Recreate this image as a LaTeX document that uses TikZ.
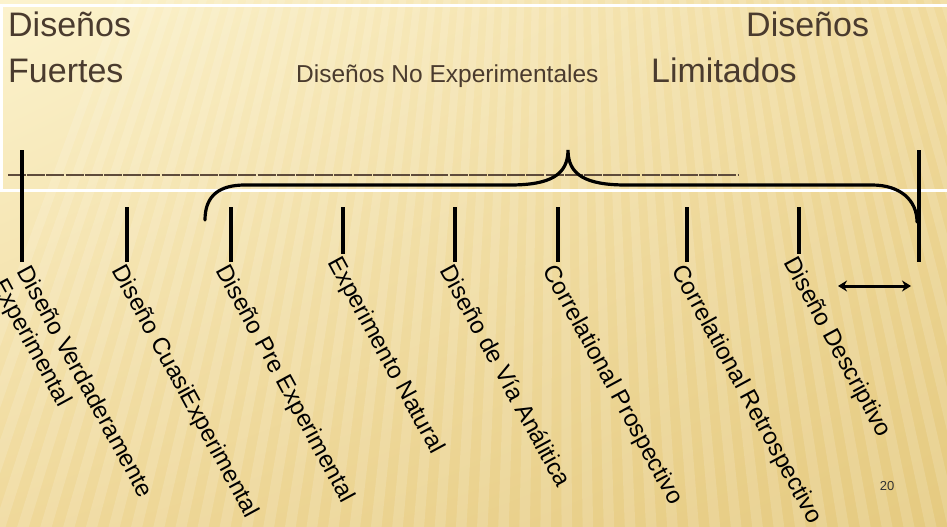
\documentclass[tikz,border=0pt]{standalone}
\usepackage{fontspec}
\setmainfont{Liberation Sans}
\usetikzlibrary{arrows.meta,shadings}
\definecolor{titlebrown}{HTML}{4A3B2E}
\definecolor{rulebrown}{HTML}{5E4B3B}
\definecolor{bgUL}{HTML}{FCF3CE}
\definecolor{bgUR}{HTML}{F0DA9C}
\definecolor{bgLL}{HTML}{EFD899}
\definecolor{bgLR}{HTML}{E5CA80}
\begin{document}
\begin{tikzpicture}[x=1pt,y=-1pt,
  tickline/.style={line width=3.5pt, black},
  lab/.style={anchor=north west, rotate=-61.5, inner sep=0pt, align=left,
    text=black, font=\fontsize{24}{28}\selectfont},
  ttl/.style={anchor=base west, inner sep=0pt, text=titlebrown,
    font=\fontsize{34}{40}\selectfont},
  bracepath/.style={line width=3.2pt, black, line cap=round},
  frameline/.style={white, line width=3pt}]
\useasboundingbox (0,0) rectangle (947,527);
% background
\shade[upper left=bgUL, upper right=bgUR, lower left=bgLL, lower right=bgLR]
  (0,0) rectangle (947,527);
\begin{scope}
  \clip (0,0) rectangle (947,527);
  \begin{scope}[shift={(560,-1200)}]
    \foreach \i in {0,...,57} {
      \pgfmathsetmacro\a{70+\i*0.7}
      \pgfmathsetmacro\b{\a+0.35}
      \fill[white, opacity=0.14] (0,0) -- (\a:2000) -- (\b:2000) -- cycle;
    }
  \end{scope}
\end{scope}
% white frame
\coordinate (f1) at (1,5.5);
\coordinate (f2) at (950,5.5);
\coordinate (f3) at (1,190);
\coordinate (f4) at (950,190);
\draw[frameline] (f2) -- (f1) -- (f3) -- (f4);
% titles
\node[ttl] (tl1) at (8,37) {Diseños};
\node[ttl] (tl2) at (8,82) {Fuertes};
\node[ttl] (tr1) at (746,37) {Diseños};
\node[ttl] (tr2) at (651,82) {Limitados};
\node[ttl, font=\fontsize{24.5}{29}\selectfont] (tm) at (296,82) {Diseños No Experimentales};
% brown rule
\coordinate (r1) at (8,175);
\coordinate (r2) at (738,175);
\draw[rulebrown, line width=2.2pt, dash pattern=on 18pt off 1.2pt] (r1) -- (r2);
% brace
\coordinate (bL) at (205,220);
\coordinate (bTip) at (568,150);
\coordinate (bR) at (917,222);
\draw[bracepath] (bL) .. controls (205,195) and (220,185) .. (245,185)
  -- (510,185) .. controls (550,185) and (568,175) .. (bTip)
  .. controls (568,175) and (586,185) .. (626,185)
  -- (872,185) .. controls (900,185) and (917,200) .. (bR);
% ticks
\foreach \n/\x/\ya/\yb in {1/22/150/262, 2/127/207/262, 3/231/207/262,
    4/343/207/254, 5/455/207/262, 6/558/207/262, 7/687/207/262,
    8/799/207/254, 9/919/150/262} {
  \coordinate (t\n a) at (\x,\ya);
  \coordinate (t\n b) at (\x,\yb);
  \draw[tickline] (t\n a) -- (t\n b);
}
% labels
\node[lab] (l1) at ([shift={(10,1)}]t1b) {Diseño Verdaderamente\\Experimental};
\node[lab] (l2) at (t2b) {Diseño CuasiExperimental};
\node[lab] (l3) at (t3b) {Diseño Pre Experimental};
\node[lab] (l4) at (t4b) {Experimento Natural};
\node[lab] (l5) at (t5b) {Diseño de Vía Análitica};
\node[lab] (l6) at (t6b) {Correlational Prospectivo};
\node[lab] (l7) at (t7b) {Correlational Retrospectivo};
\node[lab] (l8) at (t8b) {Diseño Descriptivo};
% double arrow
\coordinate (aL) at (838,286);
\coordinate (aR) at (911,286);
\draw[line width=3pt, {Stealth[length=9pt,width=11pt]}-{Stealth[length=9pt,width=11pt]}] (aL) -- (aR);
% page number
\node[font=\fontsize{13}{15}\selectfont, text=black!80, inner sep=0pt] (pg) at (887,486) {20};
\end{tikzpicture}
\end{document}
